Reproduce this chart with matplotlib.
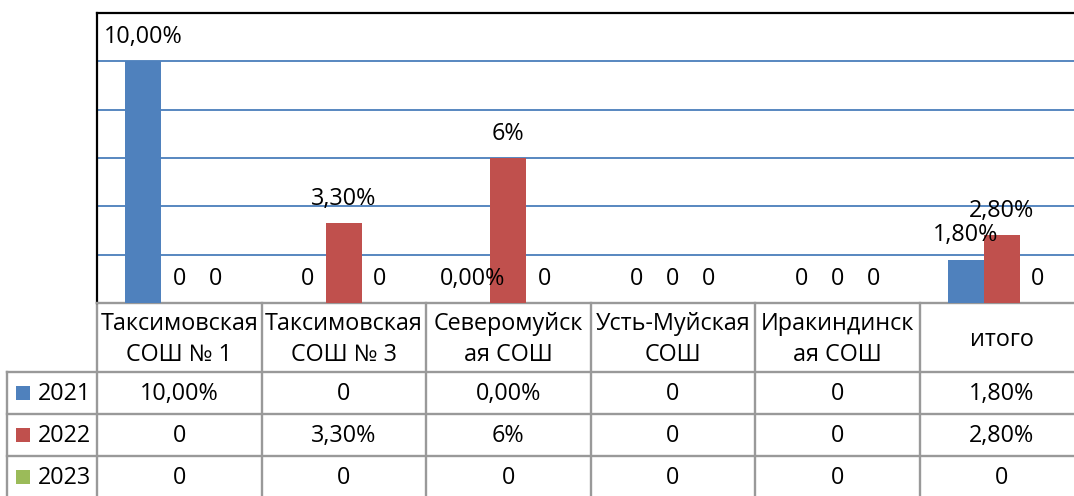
import matplotlib
matplotlib.use('Agg')
import matplotlib.pyplot as plt
from matplotlib.transforms import blended_transform_factory
from matplotlib.patches import Rectangle

# ---- data ----
categories = ["Таксимовская\nСОШ № 1", "Таксимовская\nСОШ № 3", "Северомуйск\nая СОШ",
              "Усть-Муйская\nСОШ", "Иракиндинск\nая СОШ", "итого"]
series_names = ["2021", "2022", "2023"]
values_2021 = [10.0, 0, 0.0, 0, 0, 1.8]
values_2022 = [0, 3.3, 6.0, 0, 0, 2.8]
values_2023 = [0, 0, 0, 0, 0, 0]
labels_2021 = ["10,00%", "0", "0,00%", "0", "0", "1,80%"]
labels_2022 = ["0", "3,30%", "6%", "0", "0", "2,80%"]
labels_2023 = ["0", "0", "0", "0", "0", "0"]
gridlines = [2, 4, 6, 8, 10]
y_max = 12

series_values = [values_2021, values_2022, values_2023]
series_labels = [labels_2021, labels_2022, labels_2023]
colors = ["#4F81BD", "#C0504D", "#9BBB59"]

plt.rcParams['font.family'] = ['Open Sans', 'DejaVu Sans']
FS = 16.8

W, H, DPI = 1074, 496, 100
fig = plt.figure(figsize=(W / DPI, H / DPI), dpi=DPI)

def fy(py):
    return 1 - py / H

def fx(px):
    return px / W

cat_w = 164.5
ax_left, ax_top, ax_bottom = 97, 13, 303
ax = fig.add_axes([fx(ax_left), fy(ax_bottom), len(categories) * cat_w / W, (ax_bottom - ax_top) / H])
ax.set_xlim(-0.5, len(categories) - 0.5)
ax.set_ylim(0, y_max)

bw = 36 / cat_w
offsets = [-bw, 0, bw]
for s, (vals, labs, col, off) in enumerate(zip(series_values, series_labels, colors, offsets)):
    xs = [i + off for i in range(len(categories))]
    ax.bar(xs, vals, width=bw, color=col, zorder=3, linewidth=0)
    for x, v, lab in zip(xs, vals, labs):
        ax.annotate(lab, (x, v), xytext=(0, 13), textcoords='offset points',
                    ha='center', va='baseline', fontsize=FS, zorder=5)

ax.set_yticks(gridlines)
ax.yaxis.grid(True, color='#4A7EBB', linewidth=1.3, zorder=1)
ax.tick_params(left=False, bottom=False, labelleft=False, labelbottom=False)
ax.set_xticks([])
ax.spines['right'].set_visible(False)
ax.spines['top'].set_color('black')
ax.spines['top'].set_linewidth(1.6)
ax.spines['left'].set_color('black')
ax.spines['left'].set_linewidth(1.6)
ax.spines['bottom'].set_color('#999999')
ax.spines['bottom'].set_linewidth(1.7)

# ---- data table ----
bt = blended_transform_factory(ax.transData, fig.transFigure)
grid_col = '#999999'
glw = 1.7
header_top, header_bot = 303, 372
row_bounds = [372, 414, 456, 498]
n = len(categories)

for k in range(n + 1):
    ax.plot([k - 0.5, k - 0.5], [fy(header_top), fy(row_bounds[-1])], transform=bt,
            color=grid_col, lw=glw, clip_on=False, zorder=2)
for py in row_bounds:
    fig.add_artist(plt.Line2D([fx(7), 1.0], [fy(py), fy(py)], transform=fig.transFigure,
                              color=grid_col, lw=glw))
fig.add_artist(plt.Line2D([fx(7), fx(7)], [fy(row_bounds[0]), fy(row_bounds[-1])],
                          transform=fig.transFigure, color=grid_col, lw=glw))

for i, cat in enumerate(categories):
    ax.text(i, fy((header_top + header_bot) / 2 + 2), cat, transform=bt, ha='center', va='center',
            fontsize=FS, linespacing=1.38)

for r, (name, labs, col) in enumerate(zip(series_names, series_labels, colors)):
    cy = (row_bounds[r] + row_bounds[r + 1]) / 2
    if r == len(series_names) - 1:
        cy = 477
    fig.add_artist(Rectangle((fx(16), fy(cy + 7)), 14 / W, 14 / H, transform=fig.transFigure,
                             facecolor=col, edgecolor='none'))
    fig.text(fx(38), fy(cy + 1), name, ha='left', va='center', fontsize=FS)
    for i, lab in enumerate(labs):
        ax.text(i, fy(cy + 1), lab, transform=bt, ha='center', va='center', fontsize=FS)

fig.savefig('out.png', dpi=DPI)
